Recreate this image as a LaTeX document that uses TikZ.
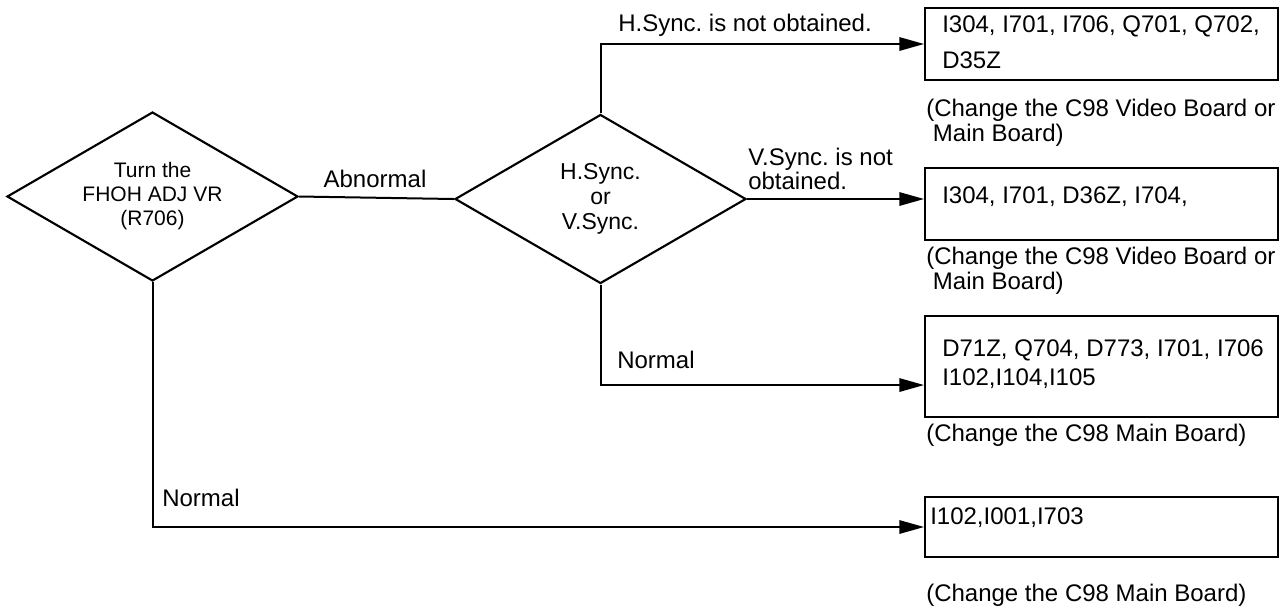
\documentclass[tikz,border=0pt]{standalone}
\usepackage{fontspec}
\setmainfont{Liberation Sans}
\usetikzlibrary{shapes.geometric,arrows.meta}

\begin{document}
\frenchspacing
\begin{tikzpicture}[x=0.75pt,y=-0.75pt,
  decision/.style={diamond, draw, line width=1.6pt, inner sep=0pt,
    shape aspect=1.72, align=center,
    minimum width=218.25pt, minimum height=126.75pt},
  result/.style={rectangle, draw, line width=1.4pt, inner sep=0pt,
    minimum width=264.75pt},
  txt/.style={font=\fontsize{18}{21.75}\selectfont, inner sep=0pt, align=left},
  note/.style={font=\fontsize{18}{18.75}\selectfont, inner sep=0pt, align=left},
  arr/.style={line width=1.5pt, -{Triangle[length=18.5pt,width=10pt]}},
  link/.style={line width=1.5pt},
]
\useasboundingbox (0,0) rectangle (1280,612);

% decisions
\node[decision, font=\fontsize{15.75}{18}\selectfont] (d1) at (152.5,196.5)
  {Turn the\\FHOH ADJ VR\\(R706)};
\node[decision, font=\fontsize{17.25}{18.75}\selectfont] (d2) at (600.5,199)
  {H.Sync.\\or\\V.Sync.};

% result boxes
\node[result, minimum height=54pt]    (b1) at (1101.5,44)    {};
\node[result, minimum height=54pt]    (b2) at (1101.5,204)   {};
\node[result, minimum height=75.75pt] (b3) at (1101.5,366.5) {};
\node[result, minimum height=45pt]    (b4) at (1101.5,527)   {};

% box contents
\node[txt, anchor=west, font=\fontsize{18}{27}\selectfont] (t1) at (942,42)
  {I304, I701, I706, Q701, Q702,\\D35Z};
\node[txt, anchor=west] (t2) at (942,197) {I304, I701, D36Z, I704,};
\node[txt, anchor=west] (t3) at (942,364.5) {D71Z, Q704, D773, I701, I706\\I102,I104,I105};
\node[txt, anchor=west] (t4) at (930,518) {I102,I001,I703};

% remarks under the boxes
\node[note, anchor=west] (c1) at (926,122.5) {(Change the C98 Video Board or\\\ Main Board)};
\node[note, anchor=west] (c2) at (926,271)   {(Change the C98 Video Board or\\\ Main Board)};
\node[note, anchor=west] (c3) at (926,435)   {(Change the C98 Main Board)};
\node[note, anchor=west] (c4) at (926,595)   {(Change the C98 Main Board)};

% branch labels
\node[note, anchor=center] (l0) at (375,179) {Abnormal};
\node[note, anchor=west]   (l1) at (618,25)  {H.Sync. is not obtained.};
\node[note, anchor=west, font=\fontsize{18}{18}\selectfont] (l2) at (748,169) {V.Sync. is not\\obtained.};
\node[note, anchor=west]   (l3) at (617,360) {Normal};
\node[note, anchor=west]   (l4) at (162,498) {Normal};

% connectors
\draw[link] (d1.east) -- (d2.west);
\draw[arr] (d2.north) |- (b1.west);
\draw[arr] (d2.east) -- (d2.east -| b2.west);
\draw[arr] (d2.south) |- ([yshift=-13.9pt]b3.west);
\draw[arr] (d1.south) |- (b4.west);
\end{tikzpicture}
\end{document}
